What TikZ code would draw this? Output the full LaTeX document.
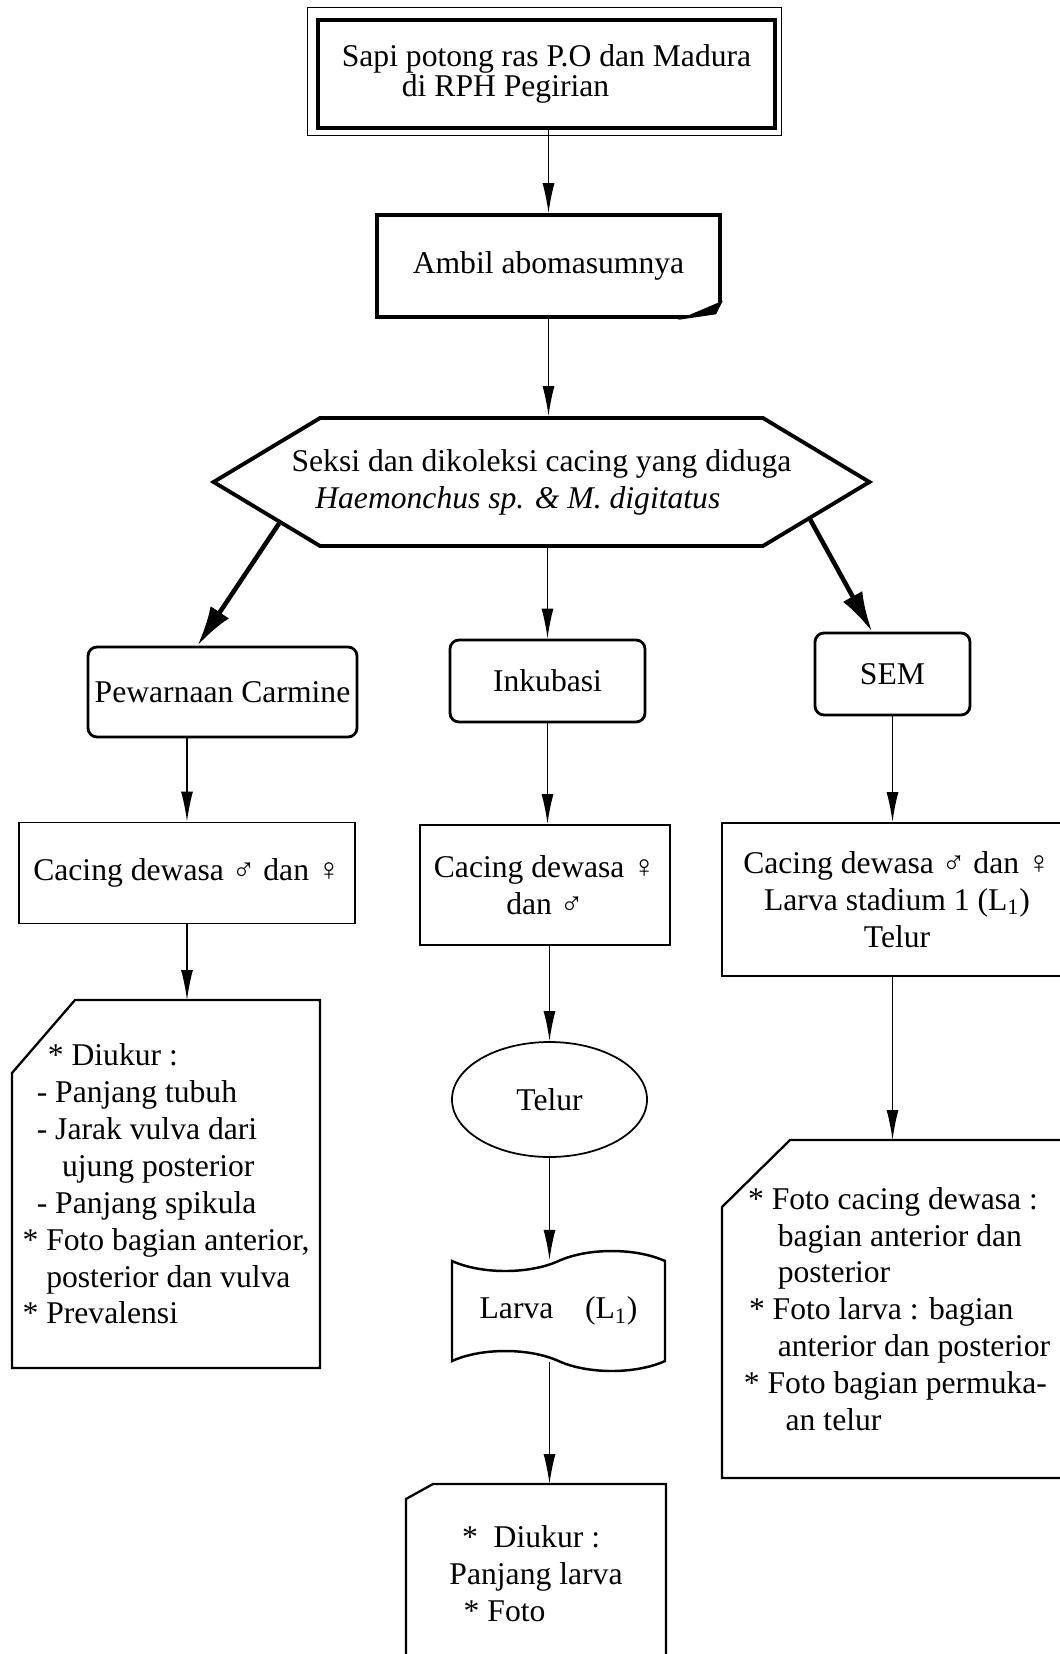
\documentclass[tikz,border=0pt]{standalone}
\usepackage{fontspec}
\setmainfont{Liberation Serif}
\usepackage{tikz}
\usetikzlibrary{shapes, arrows.meta}
\tikzstyle{start} = [rectangle, minimum width=9.14cm, minimum height=2.16cm, draw=black, line width=2pt, align=left]
\tikzstyle{process} = [rectangle, draw=black, line width=2pt, align=center]
\tikzstyle{hexagon} = [signal, signal to=west and east, signal pointer angle=62, minimum height=2.56cm, draw=black, line width=2.2pt, align=left, inner ysep=2pt, inner xsep=-0.57cm]
\tikzstyle{choice} = [rectangle, rounded corners=0.18cm, draw=black, line width=1.6pt]
\tikzstyle{result} = [rectangle, draw=black, line width=1.1pt, align=center]
\tikzstyle{egg} = [ellipse, draw=black, line width=1pt, minimum width=3.9cm, minimum height=2.3cm]
\tikzstyle{tapebox} = [tape, draw=black, line width=1.4pt, minimum width=4.26cm, minimum height=2.4cm, tape bend top=in and out, tape bend bottom=out and in, tape bend height=0.4cm]
\tikzstyle{remark} = [rectangle, outer sep=0pt, align=left]
\tikzstyle{cutline} = [draw=black, line width=1.3pt]
\tikzstyle{line} = [draw, line width=0.8pt, -{Latex[length=6mm, width=2.4mm]}]
\tikzstyle{bigline} = [draw, line width=2.6pt, -{Latex[length=8mm, width=4.4mm]}]

\begin{document}
\begin{tikzpicture}[node distance=4cm, font=\fontsize{18}{21}\selectfont]
  \useasboundingbox (0,0) rectangle (21.18,-33.08);
  %% nodes
  % top of the chart
  \node [start, font=\fontsize{18}{15}\selectfont] (sapi) at (10.93,-1.48) {Sapi potong ras P.O dan Madura\\\hspace*{1.9em}di RPH Pegirian};
  \node [process, minimum width=6.86cm, minimum height=2.04cm, below of=sapi, xshift=0.04cm, yshift=0.16cm] (ambil) {Ambil abomasumnya};
  \node [hexagon, below of=ambil, xshift=-0.14cm, yshift=-0.32cm] (seksi) {Seksi dan dikoleksi cacing yang diduga\\\hspace*{0.75em}\textit{Haemonchus sp. \& M. digitatus}};
  % three methods
  \node [choice, minimum width=3.9cm, minimum height=1.64cm, below of=seksi, xshift=0.12cm, yshift=0.02cm] (inkubasi) {Inkubasi};
  \node [choice, minimum width=5.38cm, minimum height=1.8cm, inner xsep=0.1cm, left of=inkubasi, xshift=-2.5cm, yshift=-0.22cm] (carmine) {Pewarnaan Carmine};
  \node [choice, minimum width=3.1cm, minimum height=1.64cm, right of=inkubasi, xshift=2.9cm, yshift=0.14cm] (sem) {SEM};
  % adult worms
  \node [result, minimum width=6.72cm, minimum height=2.02cm, below of=carmine, xshift=-0.71cm, yshift=0.38cm] (dewasa1) {Cacing dewasa ♂ dan ♀};
  \node [result, minimum width=5cm, minimum height=2.4cm, below of=inkubasi, xshift=-0.05cm, yshift=-0.08cm] (dewasa2) {Cacing dewasa ♀\\dan ♂};
  \node [result, minimum width=7cm, minimum height=3.06cm, below of=sem, xshift=0.09cm, yshift=-0.51cm] (dewasa3) {Cacing dewasa ♂ dan ♀\\Larva stadium 1 (L\textsubscript{1})\\Telur};
  % incubation column
  \node [egg, below of=dewasa2, xshift=0.09cm, yshift=-0.29cm] (telur) {Telur};
  \node [tapebox, below of=telur, xshift=0.18cm, yshift=-0.23cm] (larva) {Larva\hspace{1em}(L\textsubscript{1})};
  % what is measured
  \node [remark, minimum width=6.16cm, minimum height=7.36cm, below of=dewasa1, xshift=-0.42cm, yshift=-2.22cm] (ukur1) {\hspace*{0.8em}* Diukur :\\
    \hspace*{0.45em}- Panjang tubuh\\
    \hspace*{0.45em}- Jarak vulva dari\\
    \hspace*{1.25em}ujung posterior\\
    \hspace*{0.45em}- Panjang spikula\\
    * Foto bagian anterior,\\
    \hspace*{0.75em}posterior dan vulva\\
    * Prevalensi};
  \node [remark, minimum width=5.2cm, minimum height=3.6cm, below of=larva, xshift=-0.45cm, yshift=-1.26cm] (ukur2) {\hspace*{0.4em}*\ \ Diukur :\\
    Panjang larva\\
    \hspace*{0.45em}* Foto};
  \node [remark, minimum width=7cm, minimum height=6.76cm, below of=dewasa3, xshift=0cm, yshift=-4.19cm] (foto) {\hspace*{0.13em}* Foto cacing dewasa :\\
    \hspace*{1.07em}bagian anterior dan\\
    \hspace*{1.07em}posterior\\
    \hspace*{0.16em}* Foto larva : bagian\\
    \hspace*{1.07em}anterior dan posterior\\
    * Foto bagian permuka-\\
    \hspace*{1.32em}an telur};
  %% frames
  % double frame round the top box
  \draw [line width=0.6pt] ([shift={(-0.18cm,0.22cm)}]sapi.north west) rectangle ([shift={(0.1cm,-0.12cm)}]sapi.south east);
  % folded corner
  \fill [white] ([xshift=-0.8cm]ambil.south east) -- ([shift={(0.06cm,-0.06cm)}]ambil.south east) -- ([yshift=0.34cm]ambil.south east) -- cycle;
  \filldraw [line width=0.6pt] ([xshift=-0.8cm]ambil.south east) -- ([yshift=0.34cm]ambil.south east) -- ([shift={(-0.12cm,0.1cm)}]ambil.south east) -- cycle;
  % cut corners
  \draw [cutline] (ukur1.south west) -- ([yshift=-1.46cm]ukur1.north west) -- ([xshift=1.26cm]ukur1.north west) -- (ukur1.north east) -- (ukur1.south east) -- cycle;
  \draw [cutline] (ukur2.south west) -- ([yshift=-0.3cm]ukur2.north west) -- ([xshift=0.54cm]ukur2.north west) -- (ukur2.north east) -- (ukur2.south east) -- cycle;
  \draw [cutline] (foto.south west) -- ([yshift=-1.34cm]foto.north west) -- ([xshift=1.36cm]foto.north west) -- (foto.north east) -- (foto.south east) -- cycle;
  %% edges
  % top
  \path [line] (sapi.south -| ambil) -- (ambil);
  \path [line] (ambil) -- (ambil |- seksi.north);
  % hexagon to the methods
  \path [bigline] (seksi.189) -- ([xshift=-0.5cm]carmine.north);
  \path [line] (inkubasi |- seksi.south) -- (inkubasi);
  \path [bigline] (seksi.352) -- ([xshift=-0.41cm]sem.north);
  % left column
  \path [line] (carmine.south -| dewasa1) -- (dewasa1);
  \path [line] (dewasa1) -- (dewasa1 |- ukur1.north);
  % middle column
  \path [line] (inkubasi) -- (inkubasi |- dewasa2.north);
  \path [line] (telur |- dewasa2.south) -- (telur);
  \path [line] (telur) -- (telur |- larva.north);
  \path [line] (telur |- larva.south) -- (telur |- ukur2.north);
  % right column
  \path [line] (sem) -- (sem |- dewasa3.north);
  \path [line] (sem |- dewasa3.south) -- (sem |- foto.north);
\end{tikzpicture}
\end{document}
